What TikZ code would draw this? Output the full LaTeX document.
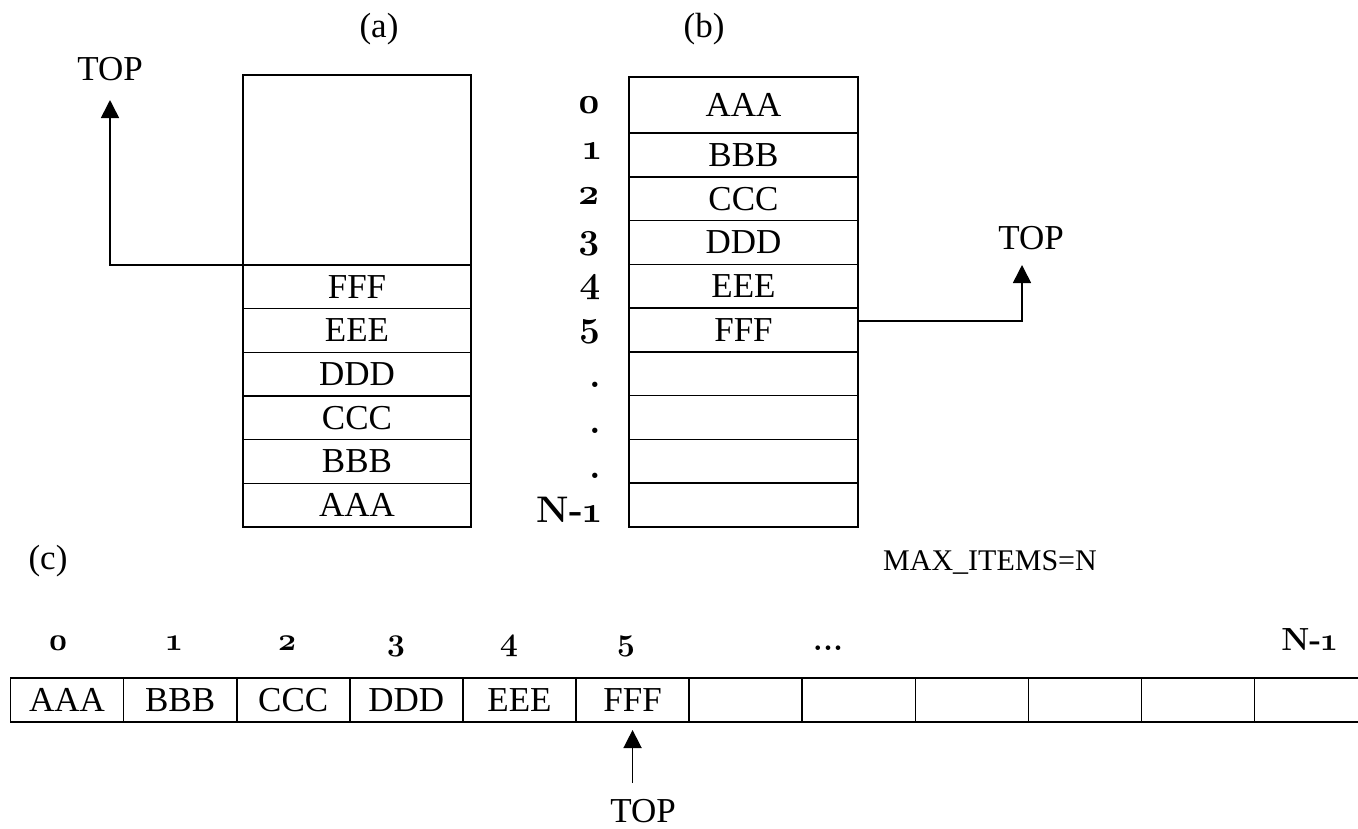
\documentclass[tikz,border=0pt]{standalone}
\usepackage{fontspec}
\setmainfont{Liberation Serif}
\newfontfamily\numfont[Numbers=OldStyle]{Latin Modern Roman}
\usetikzlibrary{arrows.meta}
\begin{document}
\begin{tikzpicture}[x=1pt,y=-1pt,
  cell/.style={draw,line width=1.6pt,inner sep=0pt,outer sep=0pt,font=\fontsize{35}{40}\selectfont},
  lbl/.style={inner sep=0pt,font=\fontsize{35}{40}\selectfont},
  idx/.style={inner sep=0pt,font=\numfont\bfseries\fontsize{37}{42}\selectfont},
  idxc/.style={inner sep=0pt,font=\numfont\bfseries\fontsize{32}{38}\selectfont},
  ptr/.style={line width=1.6pt,-{Triangle[length=18pt,width=18pt]}},
]
\useasboundingbox (0,0) rectangle (1358,828);
\clip (0,0) rectangle (1358,828);
% (a)
\node[lbl] (la) at (379,29) {(a)};
\node[cell,minimum width=228pt,minimum height=190pt] (aE) at (357,170) {};
\foreach \t [count=\i from 0] in {AAA,BBB,CCC,DDD,EEE,FFF}
  \node[cell,minimum width=228pt,minimum height=43.67pt] (a\i) at (357,{527-43.67*(\i+0.5)}) {\t};
\node[lbl] (topa) at (110,69) {TOP};
\coordinate (tipa) at (110,100);
\draw[ptr] (aE.south west) -| (tipa);
% (b)
\node[lbl] (lb) at (704,29) {(b)};
\node[cell,minimum width=229pt,minimum height=56pt] (b0) at (743.5,105) {AAA};
\foreach \t [count=\k] in {BBB,CCC,DDD,EEE,FFF}
  \node[cell,minimum width=229pt,minimum height=43.78pt] (b\k) at (743.5,{133+43.78*(\k-0.5)}) {\t};
\foreach \k in {6,...,9}
  \node[cell,minimum width=229pt,minimum height=43.78pt] (b\k) at (743.5,{133+43.78*(\k-0.5)}) {};
\foreach \t/\yy [count=\k from 0] in {0/113,1/159,2/204,3/248,4/292,5/336,./387,./433,./478,N-1/522}
  \node[idx,anchor=base east] (n\k) at (601,\yy) {\t};
\node[lbl] (topb) at (1031,238) {TOP};
\coordinate (tipb) at (1022,265);
\draw[ptr] ([yshift=9pt]b5.east) -| (tipb);
\node[inner sep=0pt,font=\fontsize{30}{34}\selectfont] (maxn) at (990,562) {MAX\_ITEMS=N};
% (c)
\node[lbl] (lc) at (48,561) {(c)};
\foreach \t [count=\i from 0] in {AAA,BBB,CCC,DDD,EEE,FFF}
  \node[cell,minimum width=113.1pt,minimum height=44pt] (c\i) at ({10.5+113.1*(\i+0.5)},700) {\t};
\foreach \i in {6,...,11}
  \node[cell,minimum width=113.1pt,minimum height=44pt] (c\i) at ({10.5+113.1*(\i+0.5)},700) {};
\foreach \t/\xx [count=\k from 0] in {0/58,1/174,2/287,3/396,4/509,5/626}
  \node[idxc,anchor=base] (m\k) at (\xx,650) {\t};
\node[idxc,anchor=base] (mdots) at (828,650) {...};
\node[idxc,anchor=base] (mN) at (1309,650) {N-1};
\node[lbl] (topc) at (643,811) {TOP};
\draw[ptr] ([yshift=-61pt]c5.south) -- ([yshift=-8pt]c5.south);
\end{tikzpicture}
\end{document}
